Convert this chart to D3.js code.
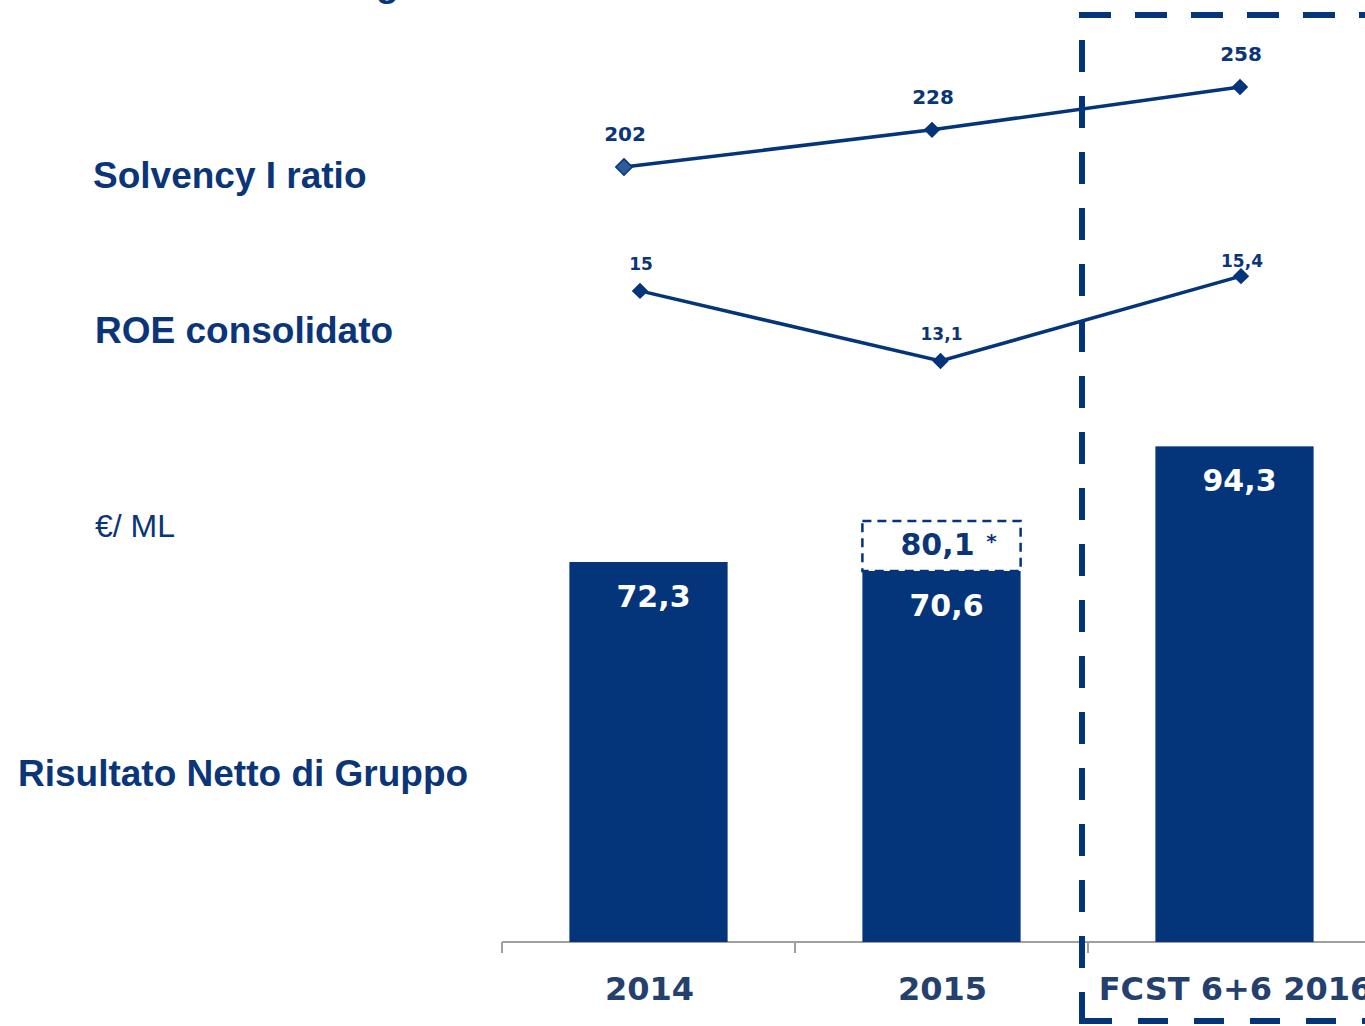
<!DOCTYPE html>
<html>
<head>
<meta charset="utf-8">
<script src="https://cdn.jsdelivr.net/npm/d3@7"></script>
<style>
  html, body { margin: 0; padding: 0; background: #ffffff; }
  svg { display: block; }
</style>
</head>
<body>
<script>
// ---- data ----
const categories = ["2014", "2015", "FCST 6+6 2016"];
const netResult = [72.3, 70.6, 94.3];
const netResultLabels = ["72,3", "70,6", "94,3"];
const adjusted2015 = 80.1;
const adjusted2015Label = "80,1";
const solvency = [202, 228, 258];
const solvencyLabels = ["202", "228", "258"];
const roe = [15, 13.1, 15.4];
const roeLabels = ["15", "13,1", "15,4"];
const rowTitles = ["Solvency I ratio", "ROE consolidato", "€/ ML", "Risultato Netto di Gruppo"];

const W = 1365, H = 1026;
const BLUE = "#04357a";
const TEXT = "#0a3679";

const svg = d3.select("body").append("svg").attr("width", W).attr("height", H);

// partial heading cut at the top
svg.append("text").attr("x", 376).attr("y", -4)
  .attr("font-family", "Liberation Sans, Arial, sans-serif").attr("font-weight", "bold")
  .attr("font-size", 37).attr("fill", TEXT).text("g");

// ---- bar chart ----
const x = d3.scaleBand().domain(categories).range([502, 1381]).paddingInner(0.46).paddingOuter(0.23);
const y = d3.scaleLinear().domain([0, 100]).range([942, 416.4]);

// axis
const axisG = svg.append("g").attr("transform", "translate(0,942)");
axisG.append("line").attr("x1", 502).attr("x2", W).attr("y1", 0).attr("y2", 0)
  .attr("stroke", "#a0a0a0").attr("stroke-width", 2);
const bounds = categories.map(c => x(c) - x.step() * x.paddingInner() / 2 - (x.bandwidth()*0) );
const tickXs = categories.map((c, i) => 502 + i * x.step());
axisG.selectAll("line.tick").data(tickXs).join("line").attr("class", "tick")
  .attr("x1", d => d).attr("x2", d => d).attr("y1", 0).attr("y2", 11)
  .attr("stroke", "#a0a0a0").attr("stroke-width", 2);
axisG.selectAll("text.cat").data(categories).join("text").attr("class", "cat")
  .attr("x", d => x(d) + x.bandwidth() / 2 + 1).attr("y", 58)
  .attr("text-anchor", "middle")
  .attr("font-family", "DejaVu Sans, Verdana, sans-serif").attr("font-weight", "bold")
  .attr("font-size", 32).attr("fill", "#23406f").text(d => d);

// bars
svg.selectAll("rect.bar").data(netResult).join("rect").attr("class", "bar")
  .attr("x", (d, i) => x(categories[i])).attr("width", x.bandwidth())
  .attr("y", d => y(d)).attr("height", d => y(0) - y(d))
  .attr("fill", BLUE);

// dashed adjusted box on 2015
svg.append("rect")
  .attr("x", x(categories[1])).attr("width", x.bandwidth())
  .attr("y", y(adjusted2015)).attr("height", y(netResult[1]) - y(adjusted2015))
  .attr("fill", "white").attr("stroke", BLUE).attr("stroke-width", 2.5)
  .attr("stroke-dasharray", "9,6");
const adjT = svg.append("text")
  .attr("x", x(categories[1]) + x.bandwidth() / 2 - 4).attr("y", y(adjusted2015) + 34)
  .attr("text-anchor", "middle")
  .attr("font-family", "DejaVu Sans, Verdana, sans-serif").attr("font-weight", "bold")
  .attr("font-size", 30).attr("fill", TEXT).text(adjusted2015Label);
svg.append("text")
  .attr("x", x(categories[1]) + x.bandwidth() / 2 + 50).attr("y", y(adjusted2015) + 27)
  .attr("text-anchor", "middle")
  .attr("font-family", "DejaVu Sans, Verdana, sans-serif").attr("font-weight", "bold")
  .attr("font-size", 20).attr("fill", TEXT).text("*");

// bar value labels
svg.selectAll("text.val").data(netResult).join("text").attr("class", "val")
  .attr("x", (d, i) => x(categories[i]) + x.bandwidth() / 2 + 5)
  .attr("y", d => y(d) + 45)
  .attr("text-anchor", "middle")
  .attr("font-family", "DejaVu Sans, Verdana, sans-serif").attr("font-weight", "bold")
  .attr("font-size", 30).attr("fill", "white").text((d, i) => netResultLabels[i]);

// ---- line charts ----
const xS = d3.scalePoint().domain(categories).range([624, 1240]);
const yS = d3.scaleLinear().domain([200, 260]).range([169.9, 84.1]);
const xR = d3.scalePoint().domain(categories).range([640, 1241]);
const yR = d3.scaleLinear().domain([13, 16]).range([364.7, 254]);

const diamond = d3.symbol().type(d3.symbolSquare).size(135);

function drawLine(vals, labels, xs, ys, fontSize, offsets) {
  const g = svg.append("g");
  const line = d3.line().x((d, i) => xs(categories[i])).y(d => ys(d));
  g.append("path").datum(vals).attr("d", line)
    .attr("fill", "none").attr("stroke", BLUE).attr("stroke-width", 3.5);
  g.selectAll("path.m").data(vals).join("path").attr("class", "m")
    .attr("d", diamond)
    .attr("transform", (d, i) => `translate(${xs(categories[i])},${ys(d)}) rotate(45)`)
    .attr("fill", BLUE);
  g.selectAll("text").data(vals).join("text")
    .attr("x", (d, i) => xs(categories[i]) + 1)
    .attr("y", (d, i) => ys(d) - offsets[i])
    .attr("text-anchor", "middle")
    .attr("font-family", "DejaVu Sans, Verdana, sans-serif").attr("font-weight", "bold")
    .attr("font-size", fontSize).attr("fill", TEXT).text((d, i) => labels[i]);
  return g;
}
const gS = drawLine(solvency, solvencyLabels, xS, yS, 20, [26, 26, 26]);
gS.select("path.m").attr("fill", "#2d5c9c").attr("stroke", BLUE).attr("stroke-width", 1.5);
drawLine(roe, roeLabels, xR, yR, 17, [21, 21, 9]);

// ---- row titles ----
const titles = [
  {t: rowTitles[0], x: 93, y: 188, w: "bold", s: 37},
  {t: rowTitles[1], x: 95, y: 343, w: "bold", s: 37},
  {t: rowTitles[2], x: 95, y: 537, w: "normal", s: 32},
  {t: rowTitles[3], x: 18, y: 786, w: "bold", s: 37}
];
svg.selectAll("text.title").data(titles).join("text").attr("class", "title")
  .attr("x", d => d.x).attr("y", d => d.y)
  .attr("font-family", "Liberation Sans, Arial, sans-serif")
  .attr("font-weight", d => d.w).attr("font-size", d => d.s)
  .attr("fill", TEXT).text(d => d.t);

// ---- forecast dashed frame ----
const frame = svg.append("g").attr("stroke", BLUE).attr("stroke-width", 6)
  .attr("stroke-dasharray", "32,24").attr("fill", "none");
frame.append("line").attr("x1", 1079).attr("x2", 1420).attr("y1", 15).attr("y2", 15);
frame.append("line").attr("x1", 1082).attr("x2", 1082).attr("y1", 40).attr("y2", 1025);
frame.append("line").attr("x1", 1082).attr("x2", 1420).attr("y1", 1021).attr("y2", 1021)
  .attr("stroke-dasharray", "30,26");
</script>
</body>
</html>
